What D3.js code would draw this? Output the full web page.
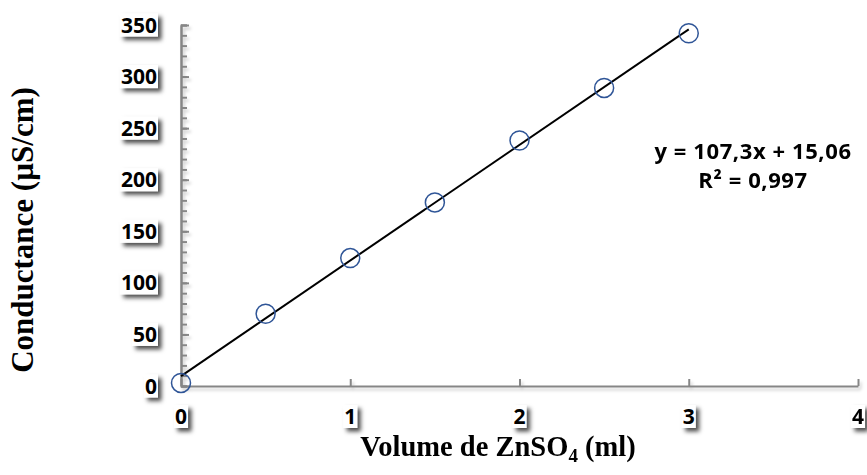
<!DOCTYPE html>
<html><head><meta charset="utf-8">
<script src="https://cdn.jsdelivr.net/npm/d3@7"></script>
<style>html,body{margin:0;padding:0;background:#fff;}svg{display:block;}</style>
</head><body>
<svg id="c" width="867" height="475"></svg>
<script>
// ---- data ----
const volumes = [0, 0.5, 1, 1.5, 2, 2.5, 3];
const conductance = [3, 70, 124, 178, 238, 289, 342];
const xTickValues = [0, 1, 2, 3, 4];
const yTickValues = [0, 50, 100, 150, 200, 250, 300, 350];
const yMinorTickValues = d3.range(0, 351, 10);
const equationLines = ["y = 107,3x + 15,06", "R\u00B2 = 0,997"];
const xTitle = ["Volume de ZnSO", "4", " (ml)"];
const yTitle = "Conductance (\u00B5S/cm)";

const svg = d3.select("#c");
const defs = svg.append("defs");
defs.append("filter").attr("id","lblsh").attr("x","-50%").attr("y","-50%").attr("width","220%").attr("height","220%")
  .append("feDropShadow").attr("dx",3.5).attr("dy",3.5).attr("stdDeviation",2.2)
  .attr("flood-color","#000").attr("flood-opacity",0.7);
defs.append("filter").attr("id","axsh").attr("x","-10%").attr("y","-10%").attr("width","120%").attr("height","120%")
  .append("feDropShadow").attr("dx",2).attr("dy",3).attr("stdDeviation",1.5)
  .attr("flood-color","#000").attr("flood-opacity",0.18);

const x = d3.scaleLinear().domain([0, 4]).range([181, 858]);
const y = d3.scaleLinear().domain([0, 350]).range([386, 25]);

const axisColor = "#868686";
const axes = svg.append("g").attr("filter","url(#axsh)");

axes.append("g").attr("transform",`translate(${x(0)},0)`)
  .call(d3.axisLeft(y).tickValues(yMinorTickValues).tickSize(-6).tickFormat(""));
axes.append("g").attr("transform",`translate(${x(0)},0)`)
  .call(d3.axisLeft(y).tickValues(yTickValues).tickSize(-8).tickFormat("").tickSizeOuter(0));
axes.append("g").attr("transform",`translate(0,${y(0)})`)
  .call(d3.axisBottom(x).tickValues(xTickValues).tickSize(-7).tickFormat("").tickSizeOuter(0));
axes.selectAll("path.domain").attr("stroke",axisColor).attr("stroke-width",2);
axes.selectAll(".tick line").attr("stroke",axisColor).attr("stroke-width",2);

const lblFont = "'Open Sans', sans-serif";
function shadowLabel(g, tx, ty, text, anchor){
  const grp = g.append("g");
  const t = grp.append("text").attr("x",tx).attr("y",ty).attr("text-anchor",anchor)
    .attr("font-family",lblFont).attr("font-weight",700).attr("font-size",21).attr("fill","#000").text(text);
  const bb = t.node().getBBox();
  grp.insert("rect","text").attr("x",bb.x-1).attr("y",bb.y+3).attr("width",bb.width+2).attr("height",bb.height-5)
    .attr("fill","#fff").attr("filter","url(#lblsh)");
}
const labels = svg.append("g");
yTickValues.forEach(v => shadowLabel(labels, 157, y(v)+7.5, String(v), "end"));
xTickValues.forEach(v => shadowLabel(labels, x(v), 424, String(v), "middle"));

// trendline (least squares from data)
const mx = d3.mean(volumes), my = d3.mean(conductance);
const slope = d3.sum(volumes.map((v,i)=>(v-mx)*(conductance[i]-my))) / d3.sum(volumes.map(v=>(v-mx)*(v-mx)));
const intercept = my - slope*mx;
svg.append("path")
  .datum(d3.extent(volumes).map(v=>[v, intercept + slope*v]))
  .attr("d", d3.line().x(d=>x(d[0])).y(d=>y(d[1])))
  .attr("fill","none").attr("stroke","#000").attr("stroke-width",2);

svg.append("g").selectAll("circle").data(volumes).join("circle")
  .attr("cx",d=>x(d)).attr("cy",(d,i)=>y(conductance[i])).attr("r",9.5)
  .attr("fill","none").attr("stroke","#2F5597").attr("stroke-width",1.5);

svg.append("g").selectAll("text").data(equationLines).join("text")
  .attr("x",753).attr("y",(d,i)=>159+i*29).attr("text-anchor","middle")
  .attr("font-family",lblFont).attr("font-weight",700).attr("font-size",22).attr("letter-spacing",0.6).text(d=>d);

const serif = "'Liberation Serif','Times New Roman',serif";
const xt = svg.append("text").attr("x",498).attr("y",456).attr("text-anchor","middle")
  .attr("font-family",serif).attr("font-weight",700).attr("font-size",28.5);
xt.append("tspan").text(xTitle[0]);
xt.append("tspan").attr("font-size",19).attr("dy",6).text(xTitle[1]);
xt.append("tspan").attr("dy",-6).text(xTitle[2]);

svg.append("text").attr("transform","translate(33,230) rotate(-90)").attr("text-anchor","middle")
  .attr("font-family",serif).attr("font-weight",700).attr("font-size",31)
  .text(yTitle);
</script>
</body></html>
